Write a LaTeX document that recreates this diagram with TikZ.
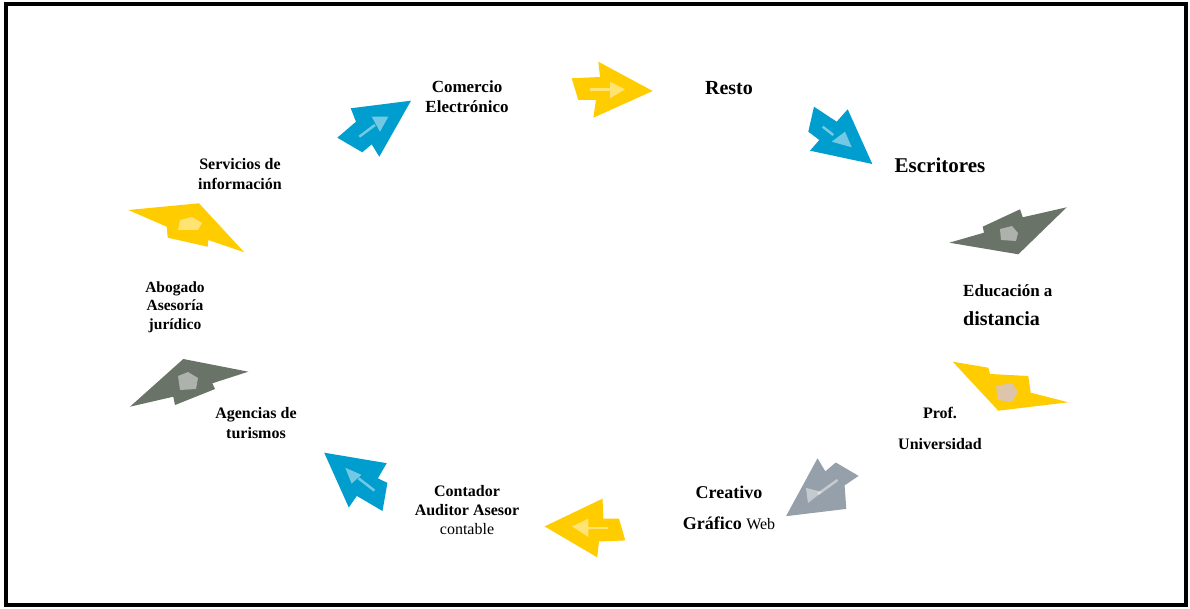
\documentclass[tikz,border=0pt]{standalone}
\usepackage{fontspec}
\setmainfont{Liberation Serif}
\definecolor{arrowblue}{RGB}{0,158,206}
\definecolor{arrowyellow}{RGB}{255,204,0}
\definecolor{arrowgreen}{RGB}{106,115,104}
\definecolor{arrowslate}{RGB}{150,160,170}
\definecolor{patchtan}{RGB}{222,196,170}

\begin{document}
\begin{tikzpicture}[x = 1pt,y = -1pt]
		\tikzset{lbl/.style = {align = center,inner sep = 0pt,font = \bfseries\fontsize{16}{20}\selectfont}}
		\tikzset{shine/.style = {fill = white,fill opacity = 0.45}}
		\tikzset{shineline/.style = {draw = white,draw opacity = 0.45,line width = 2.5pt}}
		\useasboundingbox (0,0) rectangle (1190,609);
		\fill [white] (0,0) rectangle (1190,609);
		\draw [line width = 4.5pt] (6,4) rectangle (1186,605);
		% top row
		\fill [arrowblue] (350.7,108.3) -- (411,100.7) -- (379.3,156.7) -- (371.7,144.3) -- (362.3,152.3) -- (337.3,137.7) -- (356,121.7) -- cycle;
		\draw [shineline] (359.3,136.7) -- (375,125);
		\fill [shine] (371.7,116.7) -- (388.3,116.7) -- (380,131.7) -- cycle;
		\fill [arrowyellow] (571.7,78.3) -- (600,77) -- (598.3,61.7) -- (652.7,91) -- (593.3,117.7) -- (596,100) -- (578.3,100) -- cycle;
		\draw [shineline] (590,89.3) -- (610,89.3);
		\fill [shine] (610,81.7) -- (625,89.3) -- (610,98.3) -- cycle;
		\fill [arrowblue] (814,106.7) -- (836.7,121.7) -- (847.7,109.3) -- (872.3,164) -- (810,150.7) -- (819.3,140) -- (808.3,131.7) -- cycle;
		\draw [shineline] (822.7,126.7) -- (833.3,135);
		\fill [shine] (831.7,141.7) -- (851.7,147.3) -- (845,131.7) -- cycle;
		% right side
		\fill [arrowgreen] (949.3,242.7) -- (984,232.7) -- (982.7,226.7) -- (1020,209.3) -- (1022.7,217.3) -- (1066.7,207.3) -- (1018.3,254.3) -- cycle;
		\fill [shine] (1000,229) -- (1012,226) -- (1018,233) -- (1016,241) -- (1001,240) -- cycle;
		\fill [arrowyellow] (952.7,361.7) -- (988.3,367.7) -- (990,374) -- (1028.3,376) -- (1030.7,392.7) -- (1068.3,402.3) -- (998.3,410.7) -- cycle;
		\fill [patchtan] (996,386) -- (1012,383) -- (1018,392) -- (1012,402) -- (998,400) -- cycle;
		% bottom row
		\fill [arrowslate] (817.5,458.3) -- (825.3,471.3) -- (835.8,462.5) -- (858.6,475.9) -- (844.6,485.4) -- (846.3,508.9) -- (786,516.2) -- cycle;
		\draw [shineline] (837.5,480) -- (818,494);
		\fill [shine] (806,488) -- (822,492) -- (808,503) -- cycle;
		\fill [arrowyellow] (544.6,526.4) -- (602.5,498.7) -- (603.5,518.7) -- (619,518.7) -- (625.3,540.4) -- (599,541.5) -- (597.2,557.3) -- cycle;
		\draw [shineline] (588.4,528) -- (607.7,528);
		\fill [shine] (572,526.4) -- (588.4,518.7) -- (588.4,537) -- cycle;
		\fill [arrowblue] (324.2,452.7) -- (386.7,463.2) -- (377.9,478.3) -- (387.4,482.9) -- (382.5,511) -- (356.8,495.9) -- (348.8,507.5) -- cycle;
		\draw [shineline] (358.6,478.3) -- (374.4,490.6);
		\fill [shine] (345.3,467.8) -- (361.4,474.8) -- (351.6,483.6) -- cycle;
		% left side
		\fill [arrowgreen] (183.3,359) -- (248.3,371.7) -- (212.3,383.3) -- (215,389) -- (175,405) -- (173.3,396.7) -- (130,406.7) -- cycle;
		\fill [shine] (178,376) -- (188,372) -- (198,378) -- (196,389) -- (180,390) -- cycle;
		\fill [arrowyellow] (128.3,210) -- (199,203.3) -- (244.3,252.3) -- (208.3,240) -- (207.7,246.7) -- (167.7,237.7) -- (166.7,226.7) -- cycle;
		\fill [shine] (180,220) -- (192,217) -- (202,223) -- (198,230) -- (178,230) -- cycle;
		% labels
		\node [lbl,font = \bfseries\fontsize{17}{20}\selectfont] (comercio) at (467,97) {Comercio\\Electrónico};
		\node [lbl,font = \bfseries\fontsize{20}{24}\selectfont] (resto) at (729,88) {Resto};
		\node [lbl,font = \bfseries\fontsize{21}{24}\selectfont] (escritores) at (940,165) {Escritores};
		\node [lbl,align = left,anchor = west] (educacion) at (963,305) {\fontsize{17}{20}\selectfont Educación a\\[9pt]\fontsize{20}{24}\selectfont distancia};
		\node [lbl,font = \bfseries\fontsize{16}{31}\selectfont] (prof) at (940,428) {Prof.\\Universidad};
		\node [lbl,font = \bfseries\fontsize{18}{31}\selectfont] (creativo) at (729,508) {Creativo\\Gráfico {\mdseries\fontsize{16}{31}\selectfont Web}};
		\node [lbl,font = \bfseries\fontsize{16}{19}\selectfont] (contador) at (467,510) {Contador\\Auditor Asesor\\{\mdseries contable}};
		\node [lbl] (agencias) at (256,423) {Agencias de\\turismos};
		\node [lbl,font = \bfseries\fontsize{15.5}{18.5}\selectfont] (abogado) at (175,307) {Abogado\\Asesoría\\jurídico};
		\node [lbl] (servicios) at (240,174) {Servicios de\\información};
	\end{tikzpicture}
\end{document}
